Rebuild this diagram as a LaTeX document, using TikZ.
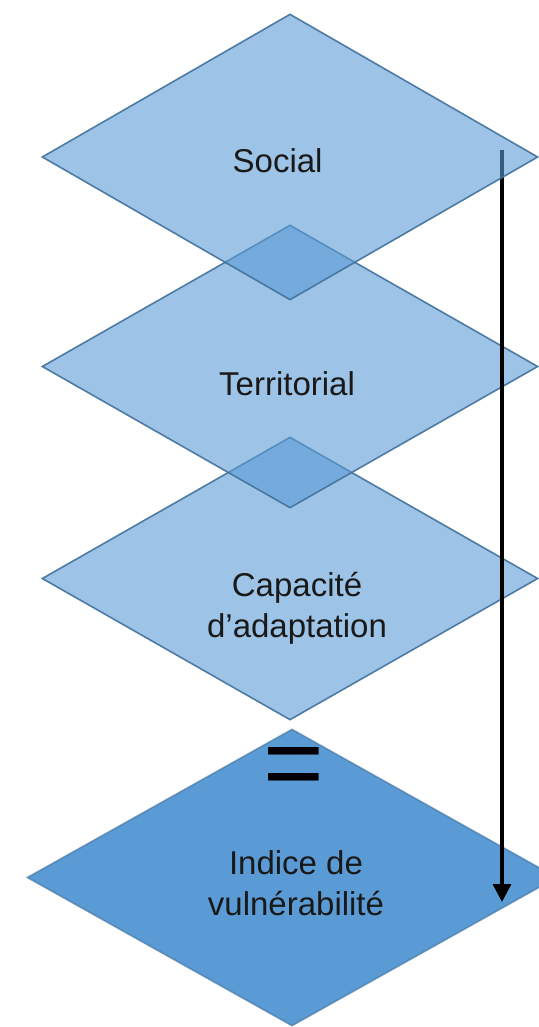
\documentclass[tikz,border=0pt]{standalone}
\usepackage{fontspec}
\setmainfont{Liberation Sans}
\usetikzlibrary{shapes.geometric,arrows.meta}

\definecolor{layerblue}{HTML}{5B9BD5}
\definecolor{layeredge}{HTML}{41719C}

\tikzset{
  layer/.style={diamond, inner sep=0pt, minimum width=496pt, minimum height=284pt,
    fill=layerblue, fill opacity=0.6, draw=layeredge, draw opacity=0.9, line width=1.6pt},
  result/.style={diamond, inner sep=0pt, minimum width=530pt, minimum height=297pt,
    fill=layerblue, draw=layeredge, draw opacity=0.6, line width=1.6pt},
  caption/.style={font=\fontsize{33}{41}\selectfont, text=black!90, inner sep=0pt,
    align=center, anchor=base},
  flow/.style={line width=3.3pt, -{Triangle[width=18pt,length=18pt]}}
}

\begin{document}
\begin{tikzpicture}[x=1pt, y=-1pt]
  \useasboundingbox (0,0) rectangle (538,1027);

  % result layer
  \node[result] (indice) at (292,877.5) {};

  % stacked component layers
  \node[layer, minimum height=283pt] (capacite) at (290,578.5) {};
  \node[layer, minimum height=283pt] (territorial) at (290,366.5) {};

  % aggregation arrow
  \coordinate (arrowstart) at (502,150);
  \coordinate (arrowend) at (502,902);
  \draw[flow] (arrowstart) -- (arrowend);

  \node[layer, minimum height=286pt] (social) at (290,157) {};

  % captions (base anchor sits on the last line)
  \node[caption] (tsocial) at (277.6,173) {Social};
  \node[caption] (tterritorial) at (287,395) {Territorial};
  \node[caption] (tcapacite) at (297,637) {Capacité\\d’adaptation};
  \node[caption] (tindice) at (296,915) {Indice de\\vulnérabilité};

  % equals sign
  \node[inner sep=0pt, anchor=base, font=\fontsize{104}{104}\selectfont] (egal)
    at (293.5,798.5) {=};
\end{tikzpicture}
\end{document}
